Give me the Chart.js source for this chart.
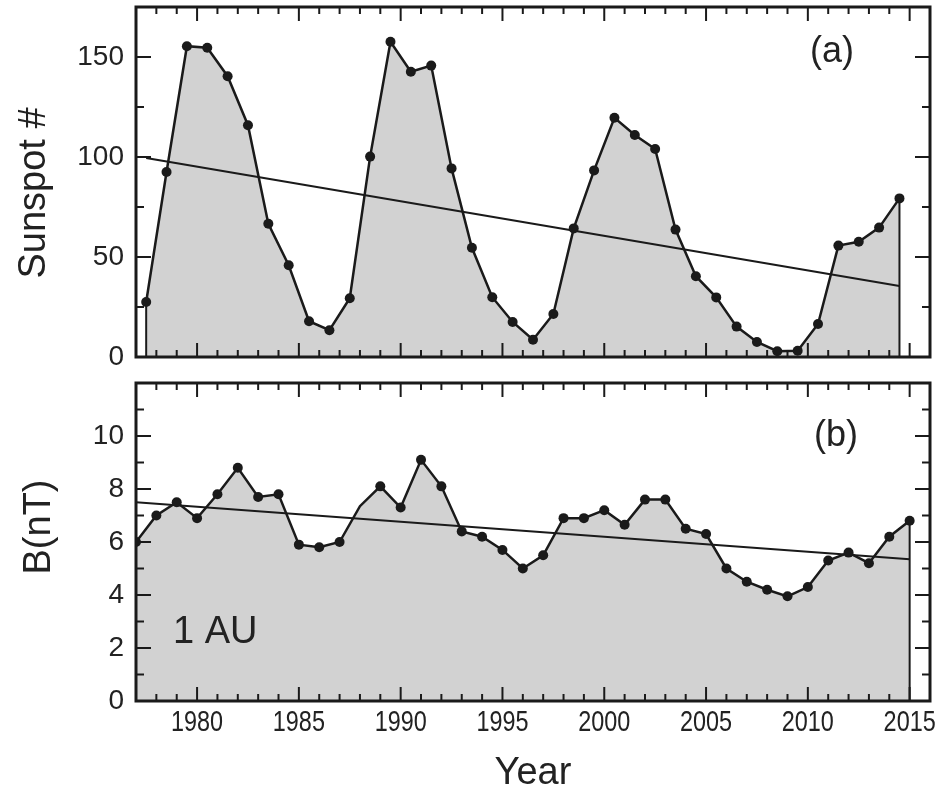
<!DOCTYPE html>
<html>
<head>
<meta charset="utf-8">
<script src="https://cdn.jsdelivr.net/npm/chart.js@4"></script>
<style>
  html, body { margin: 0; padding: 0; background: #fff; }
  #wrap { position: relative; width: 948px; height: 796px; }
  canvas { position: absolute; left: 0; }
  #spotChart { top: 0; }
  #fieldChart { top: 370px; }
</style>
</head>
<body>
<div id="wrap">
  <canvas id="spotChart" width="948" height="370"></canvas>
  <canvas id="fieldChart" width="948" height="426"></canvas>
</div>
<script>
// Yearly mean sunspot number
const spotYears = [1977.5, 1978.5, 1979.5, 1980.5, 1981.5, 1982.5, 1983.5, 1984.5, 1985.5, 1986.5,
  1987.5, 1988.5, 1989.5, 1990.5, 1991.5, 1992.5, 1993.5, 1994.5, 1995.5, 1996.5,
  1997.5, 1998.5, 1999.5, 2000.5, 2001.5, 2002.5, 2003.5, 2004.5, 2005.5, 2006.5,
  2007.5, 2008.5, 2009.5, 2010.5, 2011.5, 2012.5, 2013.5, 2014.5];
const spotValues = [27.5, 92.5, 155.4, 154.6, 140.4, 115.9, 66.6, 45.9, 17.9, 13.4,
  29.4, 100.2, 157.6, 142.6, 145.7, 94.3, 54.6, 29.9, 17.5, 8.6,
  21.5, 64.3, 93.3, 119.6, 111.0, 104.0, 63.7, 40.4, 29.8, 15.2,
  7.5, 2.9, 3.1, 16.5, 55.7, 57.6, 64.7, 79.3];
const spotTrendYears = [1977.5, 2014.5];
const spotTrendValues = [99.5, 35.5];
const spotTicks = [0, 50, 100, 150];
const spotMinorTicks = [25, 75, 125, 175];

// Yearly mean field strength at 1 AU
const fieldYears = [1977, 1978, 1979, 1980, 1981, 1982, 1983, 1984, 1985, 1986,
  1987, 1988, 1989, 1990, 1991, 1992, 1993, 1994, 1995, 1996,
  1997, 1998, 1999, 2000, 2001, 2002, 2003, 2004, 2005, 2006,
  2007, 2008, 2009, 2010, 2011, 2012, 2013, 2014, 2015];
const fieldValues = [6.0, 7.0, 7.5, 6.9, 7.8, 8.8, 7.7, 7.8, 5.9, 5.8,
  6.0, 7.35, 8.1, 7.3, 9.1, 8.1, 6.4, 6.2, 5.7, 5.0,
  5.5, 6.9, 6.9, 7.2, 6.65, 7.6, 7.6, 6.5, 6.3, 5.0,
  4.5, 4.2, 3.95, 4.3, 5.3, 5.6, 5.2, 6.2, 6.8];
const fieldUnmarked = [1988];
const fieldTrendYears = [1977, 2015];
const fieldTrendValues = [7.5, 5.35];
const fieldTicks = [0, 2, 4, 6, 8, 10];
const fieldMinorTicks = [1, 3, 5, 7, 9, 11];

const yearTicks = [1980, 1985, 1990, 1995, 2000, 2005, 2010, 2015];
const yearMin = 1977;
const yearMax = 2016;

const FONT = "'Liberation Sans', Arial, Helvetica, sans-serif";
const INK = '#1a1a1a';
const SHADE = '#d2d2d2';

// Boxed frame with inward ticks on all four sides, plus text notes
const framePlugin = {
  id: 'frame',
  afterDatasetsDraw(chart, args, opts) {
    const { ctx, chartArea: a, scales: { x, y } } = chart;
    const seg = (x1, y1, x2, y2) => { ctx.beginPath(); ctx.moveTo(x1, y1); ctx.lineTo(x2, y2); ctx.stroke(); };
    ctx.save();
    ctx.strokeStyle = INK;

    // closing edges of the shaded area
    const pts = chart.getDatasetMeta(0).data;
    const base = y.getPixelForValue(0);
    ctx.lineWidth = 2;
    [pts[0], pts[pts.length - 1]].forEach(p => seg(p.x, p.y, p.x, base));

    // year ticks
    for (let v = yearMin; v <= yearMax; v++) {
      const px = x.getPixelForValue(v);
      const len = yearTicks.includes(v) ? 14 : 7;
      seg(px, a.bottom, px, a.bottom - len);
      seg(px, a.top, px, a.top + len);
    }
    // value ticks
    opts.major.forEach(v => {
      const py = y.getPixelForValue(v);
      seg(a.left, py, a.left + 15, py);
      seg(a.right, py, a.right - 15, py);
    });
    opts.minor.forEach(v => {
      const py = y.getPixelForValue(v);
      seg(a.left, py, a.left + 8, py);
      seg(a.right, py, a.right - 8, py);
    });

    ctx.lineWidth = 3;
    ctx.strokeRect(a.left, a.top, a.right - a.left, a.bottom - a.top);

    // year labels, set in a narrow face
    ctx.fillStyle = '#222';
    if (opts.yearLabels) {
      ctx.font = `30px ${FONT}`;
      ctx.textAlign = 'center';
      ctx.textBaseline = 'middle';
      yearTicks.forEach(v => {
        ctx.save();
        ctx.translate(x.getPixelForValue(v), a.bottom + 22);
        ctx.scale(0.78, 1);
        ctx.fillText(String(v), 0, 0);
        ctx.restore();
      });
    }

    (opts.notes || []).forEach(n => {
      ctx.save();
      ctx.font = `${n.size}px ${FONT}`;
      ctx.textAlign = n.align || 'center';
      ctx.textBaseline = 'middle';
      ctx.translate(n.x, n.y);
      if (n.rotate) ctx.rotate(-Math.PI / 2);
      ctx.fillText(n.text, 0, 0);
      ctx.restore();
    });
    ctx.restore();
  }
};

function series(xs, ys) {
  return xs.map((v, i) => ({ x: v, y: ys[i] }));
}

function makeOptions(cfg) {
  return {
    responsive: false,
    animation: false,
    devicePixelRatio: 1,
    layout: { padding: { left: 0, right: 18, top: cfg.top, bottom: 0 } },
    plugins: {
      legend: { display: false },
      tooltip: { enabled: false },
      filler: { drawTime: 'beforeDatasetsDraw' },
      frame: { major: cfg.major, minor: cfg.minor, yearLabels: cfg.yearLabels, notes: cfg.notes }
    },
    scales: {
      x: {
        type: 'linear',
        min: yearMin,
        max: yearMax,
        grid: { display: false, drawTicks: false },
        border: { display: false },
        ticks: { display: false },
        title: cfg.xTitle || { display: false },
        afterFit: s => { s.height = cfg.xHeight; s.paddingLeft = 0; s.paddingRight = 0; }
      },
      y: {
        min: 0,
        max: cfg.yMax,
        grid: { display: false, drawTicks: false },
        border: { display: false },
        ticks: { font: { family: FONT, size: 28 }, color: '#222', padding: 12 },
        afterBuildTicks: s => { s.ticks = cfg.major.map(v => ({ value: v })); },
        afterFit: s => { s.width = 136; s.paddingTop = 0; s.paddingBottom = 0; }
      }
    }
  };
}

function lineSets(data, trend, radius) {
  return [
    {
      data: data,
      borderColor: INK,
      borderWidth: 2.5,
      backgroundColor: SHADE,
      fill: 'origin',
      tension: 0,
      pointRadius: radius,
      pointBackgroundColor: INK,
      pointBorderWidth: 0
    },
    {
      data: trend,
      borderColor: INK,
      borderWidth: 2.2,
      fill: false,
      pointRadius: 0
    }
  ];
}

new Chart(document.getElementById('spotChart'), {
  type: 'line',
  data: { datasets: lineSets(series(spotYears, spotValues), series(spotTrendYears, spotTrendValues), 5) },
  options: makeOptions({
    top: 7, xHeight: 13, yMax: 175,
    major: spotTicks, minor: spotMinorTicks,
    notes: [
      { text: '(a)', x: 832, y: 52, size: 36 },
      { text: 'Sunspot #', x: 35, y: 193, size: 38, rotate: true }
    ]
  }),
  plugins: [framePlugin]
});

new Chart(document.getElementById('fieldChart'), {
  type: 'line',
  data: {
    datasets: lineSets(
      series(fieldYears, fieldValues),
      series(fieldTrendYears, fieldTrendValues),
      ctx => fieldUnmarked.includes(fieldYears[ctx.dataIndex]) ? 0 : 5
    )
  },
  options: makeOptions({
    top: 13, xHeight: 95, yMax: 12,
    major: fieldTicks, minor: fieldMinorTicks,
    yearLabels: true,
    xTitle: { display: true, text: 'Year', color: '#222', font: { family: FONT, size: 38 }, padding: { top: 0, bottom: 0 } },
    notes: [
      { text: '(b)', x: 836, y: 66, size: 36 },
      { text: '1 AU', x: 173, y: 263, size: 38, align: 'left' },
      { text: 'B(nT)', x: 40, y: 157, size: 38, rotate: true }
    ]
  }),
  plugins: [framePlugin]
});
</script>
</body>
</html>
